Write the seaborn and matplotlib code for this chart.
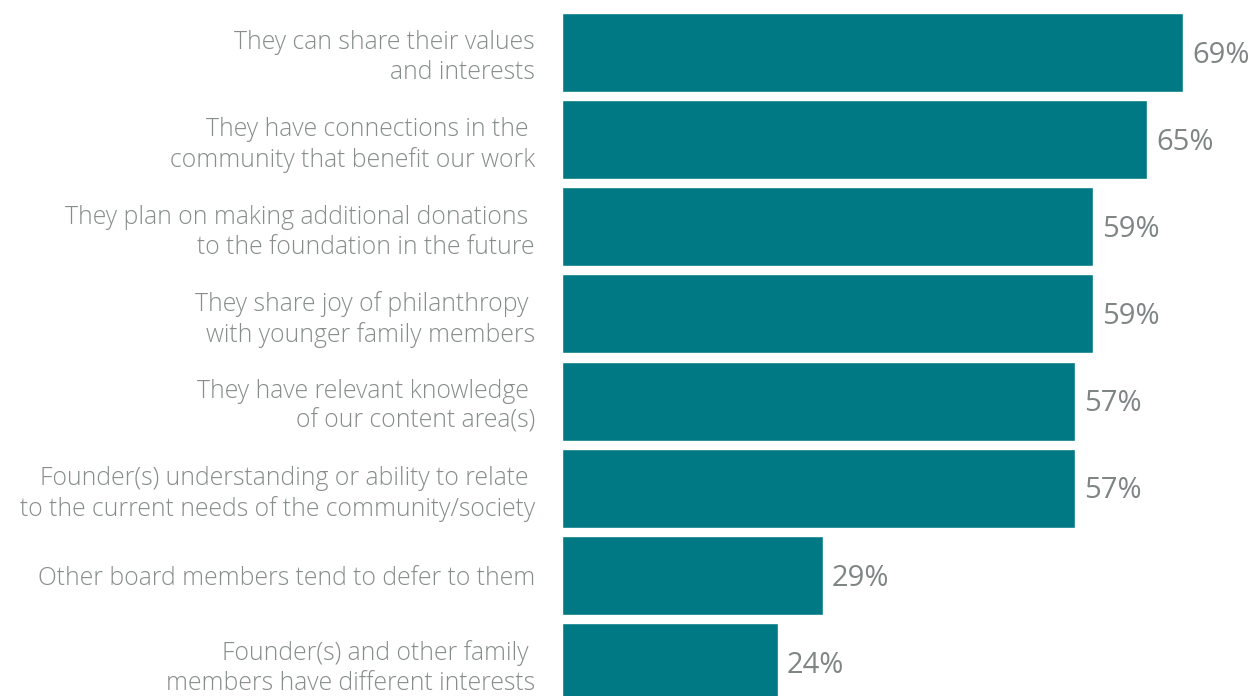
import matplotlib
matplotlib.use('Agg')
import matplotlib.pyplot as plt
import seaborn as sns
import pandas as pd

reasons = [
    'They can share their values\nand interests',
    'They have connections in the \ncommunity that benefit our work',
    'They plan on making additional donations \nto the foundation in the future',
    'They share joy of philanthropy \nwith younger family members',
    'They have relevant knowledge \nof our content area(s)',
    'Founder(s) understanding or ability to relate \nto the current needs of the community/society',
    'Other board members tend to defer to them',
    'Founder(s) and other family \nmembers have different interests',
]
shares = [69, 65, 59, 59, 57, 57, 29, 24]

bar_color = '#007984'
text_color = '#878c8c'
value_color = '#7f8585'

df = pd.DataFrame({'reason': reasons, 'share': shares})

sns.set_style('white')
plt.rcParams['font.family'] = ['Open Sans', 'DejaVu Sans']

fig = plt.figure(figsize=(12.52, 6.96), dpi=100)
ax = fig.add_axes([562 / 1252, -6 / 696, 690 / 1252, 689 / 696])

sns.barplot(data=df, x='share', y='reason', orient='h', color=bar_color,
            saturation=1, width=0.905, ax=ax)

ax.set_xlim(0, 690 / 9.0)
ax.set_ylim(len(reasons) - 1 + 0.4525, -0.4525)
ax.set_xlabel('')
ax.set_ylabel('')
ax.set_xticks([])
sns.despine(ax=ax, left=True, bottom=True)
ax.tick_params(axis='y', length=0, pad=19.5)
for lbl in ax.get_yticklabels():
    lbl.set_fontsize(17.8)
    lbl.set_color(text_color)
    lbl.set_fontweight('light')
    lbl.set_linespacing(1.25)
    lbl.set_horizontalalignment('right')

for i, v in enumerate(shares):
    ax.text(v + 1.0, i + 0.03, f'{v}%', va='center', ha='left',
            fontsize=21, color=value_color)

fig.savefig('out.png', dpi=100)
